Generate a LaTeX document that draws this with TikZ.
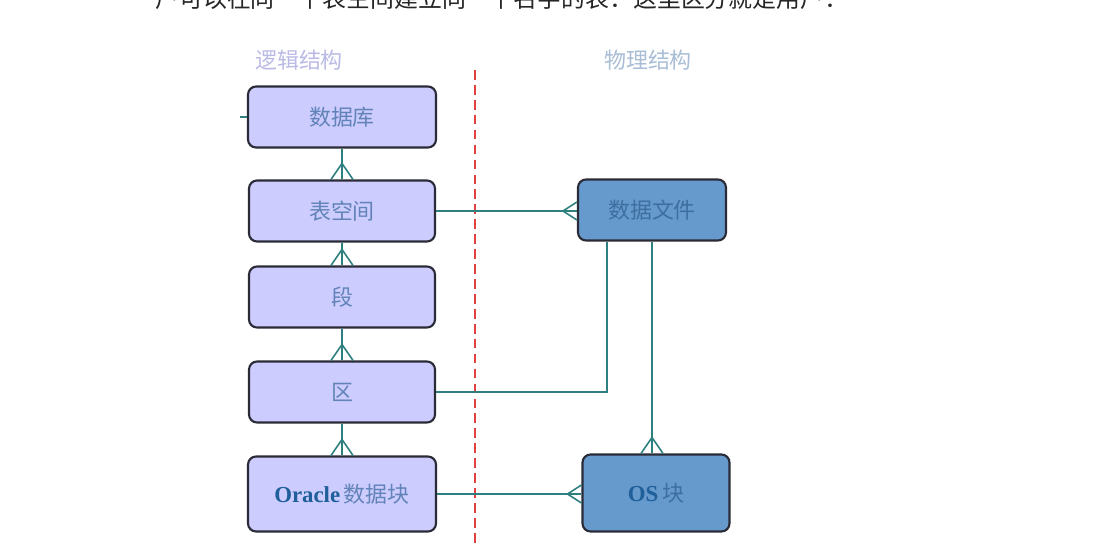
\documentclass[tikz,border=0pt]{standalone}
\usepackage{fontspec}
\setmainfont{Liberation Serif}
\newfontfamily\cjk{Noto Sans CJK SC}
\usetikzlibrary{calc}
\definecolor{logfill}{HTML}{CCCCFF}
\definecolor{phyfill}{HTML}{6699CC}
\definecolor{bord}{HTML}{2B2B38}
\definecolor{connc}{HTML}{2E7F7F}
\definecolor{ltext}{HTML}{6283B8}
\definecolor{ptext}{HTML}{3E6FA0}
\definecolor{otext}{HTML}{1F5F9A}
\definecolor{lhead}{HTML}{BABAE6}
\definecolor{phead}{HTML}{A9BDD6}
\definecolor{divc}{HTML}{E0403F}
\begin{document}
\begin{tikzpicture}[x=0.02cm,y=-0.02cm,
  box/.style={draw=bord,line width=1.2pt,rounded corners=0.16cm,inner sep=0pt,
    minimum width=3.72cm,minimum height=1.22cm,font=\cjk\fontsize{12.5}{15}\selectfont},
  logbox/.style={box,fill=logfill,text=ltext},
  phybox/.style={box,fill=phyfill,text=ptext,minimum width=2.96cm},
  connline/.style={draw=connc,line width=0.9pt},
  crowtop/.pic={\draw[connline] (-11,0) -- (0,-16) -- (11,0);},
  crowleft/.pic={\draw[connline] (0,-9) -- (-14,0) -- (0,9);},
  head/.style={font=\cjk\fontsize{12.5}{15}\selectfont},
  latin/.style={}]
\useasboundingbox (0,0) rectangle (1100,559);
\clip (0,0) rectangle (1100,559);
\fill[white] (0,0) rectangle (1100,559);
% cut-off caption line
\node[anchor=base west,inner sep=0pt,font=\cjk\fontsize{13.6}{16}\selectfont,text=black!85] (cap) at (155,7) {户可以在同一个表空间建立同一个名字的表：这里区分就是用户：};
% headings
\node[head,text=lhead] (lh) at (299,60) {逻辑结构};
\node[head,text=phead] (ph) at (648,60) {物理结构};
% divider
\coordinate (dtop) at (475,70);
\coordinate (dbot) at (475,545);
\draw[divc,line width=1.2pt,dash pattern=on 5.5pt off 3pt] (dtop) -- (dbot);
% boxes
\node[logbox,minimum width=3.76cm] (db) at (342,117) {数据库};
\node[logbox] (ts) at (342,211) {表空间};
\node[logbox] (seg) at (342,297) {段};
\node[logbox] (ext) at (342,392) {区};
\node[logbox,minimum width=3.76cm,minimum height=1.5cm] (ob) at (342,494) {\textcolor{otext}{\rmfamily\bfseries\fontsize{13}{15}\selectfont Oracle}\,数据块};
\node[phybox] (df) at (652,210) {数据文件};
\node[phybox,minimum height=1.54cm,minimum width=2.94cm] (os) at (656,493) {\textcolor{otext}{\rmfamily\bfseries\fontsize{13}{15}\selectfont OS}\,块};
% connectors
\coordinate (stub) at (240,117);
\draw[connline] (stub) -- (db.west);
\draw[connline] (db.south) -- (ts.north);
\pic at (ts.north) {crowtop};
\draw[connline] (ts.south) -- (seg.north);
\pic at (seg.north) {crowtop};
\draw[connline] (seg.south) -- (ext.north);
\pic at (ext.north) {crowtop};
\draw[connline] (ext.south) -- (ob.north);
\pic at (ob.north) {crowtop};
\draw[connline] (ts.east) -- (ts.east -| df.west);
\pic at (ts.east -| df.west) {crowleft};
\coordinate (dfl) at ($(df.south west)+(30,0)$);
\draw[connline] (ext.east) -| (dfl);
\draw[connline] (df.south) -- (df.south |- os.north);
\pic at (df.south |- os.north) {crowtop};
\draw[connline] (ob.east) -- (ob.east -| os.west);
\pic at (ob.east -| os.west) {crowleft};
\end{tikzpicture}
\end{document}
